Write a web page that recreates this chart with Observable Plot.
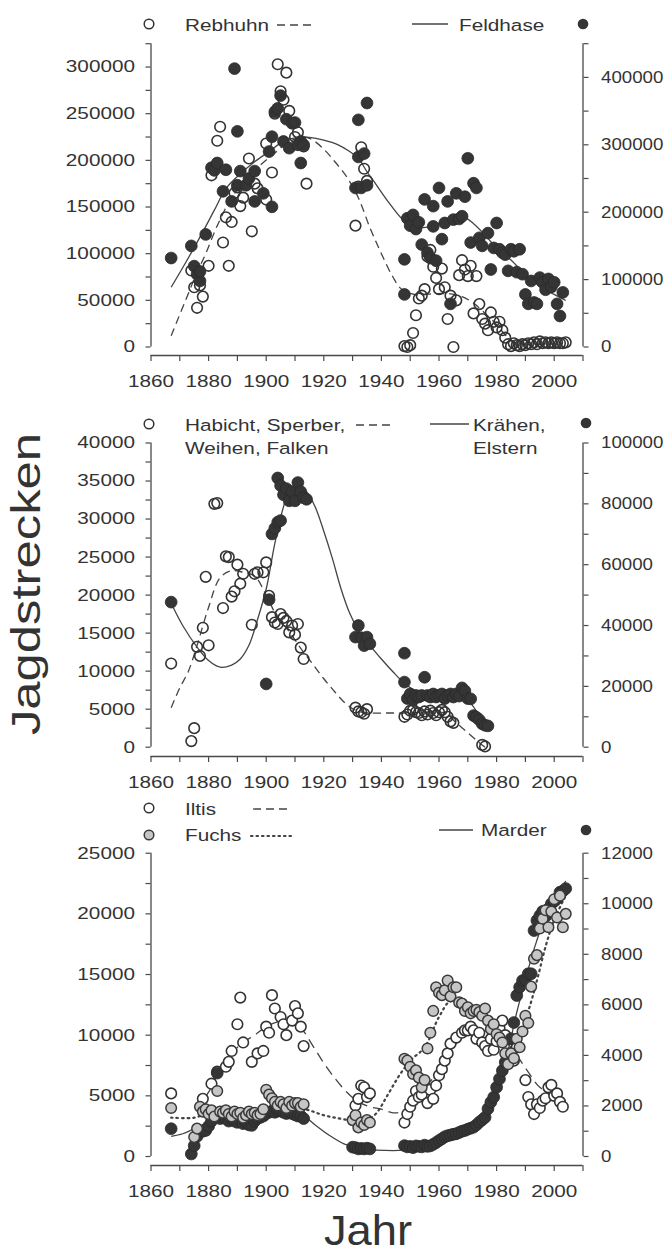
<!DOCTYPE html>
<html><head><meta charset="utf-8">
<script src="https://cdn.jsdelivr.net/npm/d3@7"></script>
<script src="https://cdn.jsdelivr.net/npm/@observablehq/plot@0.6"></script>
<style>
html,body{margin:0;padding:0;background:#fff;}
#root{position:relative;width:665px;height:1254px;overflow:hidden;font-family:"Liberation Sans",Arial,sans-serif;color:#333;}
.panel{position:absolute;left:0;}
#overlay{position:absolute;left:0;top:0;}
</style></head><body><div id="root"></div>
<script>
// ---------- Panel 1: Rebhuhn (left axis), Feldhase (right axis) ----------
const rebhuhn = [[1874,82000],[1875,64000],[1876,42000],[1877,66000],[1878,54000],[1880,87000],[1881,184000],[1883,221000],[1884,236000],[1885,112000],[1886,139000],[1887,87000],[1888,134000],[1889,165000],[1890,171000],[1891,151000],[1892,160000],[1894,202000],[1895,124000],[1896,175000],[1897,170000],[1900,218000],[1900,158000],[1902,187000],[1903,250000],[1904,303000],[1905,274000],[1906,265000],[1907,294000],[1908,253000],[1909,240000],[1910,225000],[1911,230000],[1912,219000],[1913,215000],[1914,175000],
[1931,130000],[1932,172000],[1933,214000],[1934,191000],[1935,178000],
[1948,1000],[1949,0],[1950,2000],[1951,15000],[1952,34000],[1953,52000],[1954,55000],[1955,62000],[1956,97000],[1957,104000],[1958,86000],[1959,74000],[1960,62000],[1961,84000],[1962,64000],[1963,30000],[1964,55000],[1965,0],[1966,50000],[1967,77000],[1968,93000],[1969,83000],[1970,76000],[1971,87000],[1972,36000],[1973,76000],[1974,46000],[1975,30000],[1976,25000],[1977,18000],[1978,37000],[1979,27000],[1980,21000],[1981,27000],[1982,18000],[1983,10000],[1984,3000],[1985,1000],[1986,4000],[1987,2000],[1988,1000],[1989,3000],[1990,2000],[1991,4000],[1992,3000],[1993,5000],[1994,3000],[1995,6000],[1996,4000],[1997,5000],[1998,4000],[1999,5000],[2000,4000],[2001,5000],[2002,4000],[2003,4000],[2004,5000]];
const rebhuhnLine = [[1867,12000],[1872,50000],[1876,80000],[1879,100000],[1883,130000],[1888,160000],[1893,180000],[1898,195000],[1903,208000],[1908,220000],[1913,225000],[1916,222000],[1920,212000],[1924,198000],[1928,182000],[1932,160000],[1936,128000],[1940,100000],[1944,75000],[1947,62000],[1952,56000],[1958,57000],[1964,57000],[1968,54000],[1972,47000],[1976,36000],[1980,24000],[1983,13000],[1986,5000],[1990,3000],[1996,3000],[2003,4000]];
const feldhase = [[1867,132000],[1874,150000],[1875,120000],[1876,108000],[1877,98000],[1877,112000],[1879,167000],[1881,266000],[1882,262000],[1883,273000],[1885,231000],[1886,263000],[1888,216000],[1889,413000],[1890,320000],[1890,240000],[1891,261000],[1893,240000],[1894,250000],[1896,261000],[1896,216000],[1899,228000],[1901,290000],[1902,312000],[1902,208000],[1903,349000],[1904,354000],[1905,373000],[1906,305000],[1907,338000],[1908,295000],[1909,332000],[1910,333000],[1911,300000],[1912,305000],[1912,273000],[1913,300000],
[1931,236000],[1932,337000],[1932,282000],[1933,236000],[1934,287000],[1935,362000],[1935,240000],
[1948,130000],[1948,78000],[1949,191000],[1950,180000],[1951,196000],[1952,175000],[1953,185000],[1954,152000],[1955,219000],[1956,140000],[1957,132000],[1958,209000],[1958,179000],[1959,128000],[1960,236000],[1961,160000],[1962,184000],[1963,216000],[1964,64000],[1965,189000],[1966,228000],[1967,190000],[1968,194000],[1969,223000],[1970,280000],[1971,155000],[1972,243000],[1973,236000],[1974,162000],[1975,150000],[1977,169000],[1978,115000],[1979,147000],[1980,184000],[1981,145000],[1982,140000],[1983,137000],[1984,113000],[1985,145000],[1986,142000],[1987,111000],[1988,145000],[1989,108000],[1990,78000],[1991,64000],[1992,98000],[1993,66000],[1994,64000],[1995,103000],[1996,96000],[1997,85000],[1998,101000],[1999,89000],[2000,96000],[2001,64000],[2002,46000],[2003,81000]];
const feldhaseLine = [[1867,88600],[1872,125000],[1877,163000],[1882,203000],[1886,235000],[1891,257000],[1896,275000],[1901,290000],[1906,305000],[1911,311000],[1915,311000],[1920,307000],[1925,300000],[1929,290000],[1932,280000],[1935,260000],[1938,242000],[1943,212000],[1948,187000],[1953,177000],[1958,180000],[1963,188000],[1968,194000],[1972,183000],[1976,166000],[1980,147000],[1985,129000],[1990,107000],[1995,90000],[2000,78000],[2004,69000]];

// ---------- Panel 2: Habicht etc. (left), Krähen/Elstern (right) ----------
const habicht = [[1867,11000],[1874,800],[1875,2500],[1876,13200],[1877,12000],[1878,15700],[1879,22400],[1880,13400],[1882,32000],[1883,32100],[1885,18300],[1886,25100],[1887,25000],[1888,19800],[1889,20500],[1890,24000],[1891,21500],[1892,22800],[1895,16100],[1896,22800],[1897,23000],[1899,23000],[1900,24300],[1901,19900],[1902,17100],[1903,16400],[1904,16200],[1905,17500],[1906,17000],[1907,16600],[1908,15100],[1909,16000],[1910,14800],[1911,16200],[1912,13100],[1913,11600],
[1931,5200],[1932,4700],[1933,4600],[1934,4400],[1935,5000],
[1948,4000],[1949,4300],[1950,4800],[1951,4900],[1952,4600],[1953,4500],[1954,4200],[1955,4700],[1956,4300],[1957,4800],[1958,4500],[1959,4200],[1960,4600],[1961,4900],[1962,4600],[1963,4000],[1964,3400],[1965,3200],[1975,300],[1976,100]];
const habichtLine = [[1867,5200],[1870,7800],[1873,10000],[1876,13400],[1880,18400],[1884,22300],[1888,23200],[1892,23000],[1896,22500],[1900,20000],[1904,17000],[1908,15200],[1912,13000],[1916,11000],[1920,9000],[1924,7200],[1928,5600],[1932,4700],[1936,4500],[1942,4500],[1948,4500],[1955,4600],[1962,4500],[1966,3200],[1970,1900],[1974,600],[1976,0]];
const kraehen = [[1867,47700],[1900,20800],[1901,48500],[1902,70100],[1903,72000],[1904,74000],[1905,74500],[1904,88500],[1905,86000],[1906,83000],[1907,85000],[1908,81000],[1909,84000],[1910,81000],[1911,87000],[1912,84000],[1913,82000],[1914,81500],
[1931,36200],[1932,40000],[1933,36000],[1934,33400],[1935,36200],[1936,34000],
[1948,30900],[1948,21400],[1949,16000],[1950,17500],[1951,15500],[1952,17000],[1953,16500],[1954,17000],[1955,23000],[1956,17000],[1957,16500],[1958,17500],[1959,16500],[1960,17000],[1961,17500],[1962,16000],[1963,17000],[1964,17500],[1965,16500],[1966,17500],[1967,16800],[1968,19500],[1969,18500],[1970,16000],[1971,15900],[1972,10400],[1973,9800],[1974,9000],[1975,7700],[1976,7200],[1977,7000]];
const kraehenLine = [[1867,47300],[1871,40000],[1876,32900],[1880,28500],[1884,26300],[1888,27000],[1891,29000],[1894,33500],[1897,42000],[1900,52000],[1903,67000],[1906,79000],[1908,84000],[1911,85500],[1914,84000],[1917,79000],[1920,71000],[1923,62000],[1926,52000],[1929,44000],[1932,38500],[1936,33500],[1940,29000],[1944,24800],[1948,21000],[1952,18500],[1958,17500],[1964,17500],[1968,17300],[1971,14500],[1974,10500],[1977,7000]];

// ---------- Panel 3: Iltis, Fuchs (left), Marder (right) ----------
const iltis = [[1867,5200],[1878,4750],[1881,6000],[1883,7000],[1886,7400],[1887,7800],[1888,8700],[1890,10900],[1891,13100],[1892,9400],[1895,7800],[1897,8500],[1899,8700],[1900,10700],[1901,10200],[1902,13300],[1903,12200],[1905,11500],[1906,10900],[1907,10000],[1909,11200],[1910,12400],[1911,11800],[1912,10700],[1913,9100],
[1931,4200],[1932,4750],[1933,5850],[1934,5700],[1935,4900],[1936,5200],
[1948,2800],[1949,3500],[1950,4100],[1951,4600],[1952,5400],[1953,4900],[1954,5100],[1955,5800],[1956,4400],[1957,5500],[1958,4750],[1959,5850],[1960,6700],[1961,7200],[1962,7900],[1963,8500],[1964,9300],[1966,9800],[1968,10200],[1969,10400],[1970,10400],[1971,10700],[1972,10400],[1973,9700],[1974,10200],[1975,9400],[1976,9100],[1977,8700],[1978,9700],[1979,8800],[1980,9500],[1981,10600],[1982,11200],[1983,10000],[1984,8200],[1985,8500],[1986,7900],[1987,9000],[1990,6300],[1991,4900],[1992,4300],[1993,3500],[1994,4300],[1995,4000],[1996,4600],[1997,4800],[1998,5700],[1999,5900],[2000,5000],[2001,5200],[2002,4500],[2003,4100]];
const iltisLine = [[1876,4000],[1880,5300],[1884,7200],[1888,8500],[1892,9400],[1896,10000],[1900,10700],[1904,11100],[1908,11100],[1912,10600],[1916,9200],[1920,7700],[1924,6400],[1928,5300],[1932,4500],[1936,4100],[1940,3900],[1944,3600],[1947,3700],[1950,4300],[1954,5300],[1958,6500],[1962,8000],[1966,9300],[1970,10200],[1975,10400],[1980,10000],[1985,9000],[1990,7300],[1995,5700],[2000,5000],[2004,4600]];
const fuchs = [[1867,4000],[1875,1600],[1876,2300],[1877,4100],[1878,3700],[1879,3900],[1880,3500],[1881,3800],[1882,3300],[1883,5400],[1884,3700],[1885,3600],[1886,3800],[1887,3500],[1888,3300],[1889,3700],[1890,3500],[1891,3600],[1892,3200],[1893,3400],[1894,3700],[1895,3500],[1896,3600],[1897,3400],[1898,3500],[1899,3900],[1900,5500],[1901,5100],[1902,4800],[1903,4500],[1904,4200],[1905,4500],[1906,4300],[1907,4000],[1908,4500],[1909,4200],[1910,4400],[1911,4400],[1912,4100],[1913,4300],
[1930,3000],[1931,3400],[1932,2400],[1933,2800],[1934,2600],[1935,3000],[1936,2800],
[1948,8050],[1949,7900],[1950,7400],[1951,6800],[1952,7100],[1953,6500],[1954,5700],[1955,6300],[1956,8900],[1957,10200],[1958,12000],[1959,13950],[1960,13500],[1961,13300],[1962,13700],[1963,14500],[1964,13200],[1965,13950],[1966,13950],[1967,12700],[1968,12600],[1969,12000],[1970,12300],[1971,11800],[1972,12000],[1973,12100],[1974,11900],[1975,11600],[1976,12200],[1977,11200],[1978,10500],[1979,10900],[1980,10100],[1981,9800],[1982,9400],[1983,8500],[1984,7600],[1985,8500],[1986,8100],[1987,9700],[1988,9000],[1989,10300],[1990,11600],[1991,11000],[1992,14000],[1993,16300],[1994,16600],[1995,18800],[1996,19600],[1997,20300],[1998,18900],[1999,20200],[2000,21200],[2001,19700],[2002,21500],[2003,18900],[2004,20000]];
const fuchsLine = [[1867,3200],[1875,3200],[1880,3600],[1885,3700],[1890,3700],[1895,3700],[1900,3900],[1905,4100],[1910,4100],[1915,3800],[1920,3400],[1925,3150],[1930,2950],[1934,2900],[1938,3500],[1942,5000],[1946,6600],[1950,7900],[1955,9000],[1960,11500],[1964,12800],[1968,12500],[1972,12000],[1976,11300],[1980,10500],[1984,9700],[1988,10200],[1991,12000],[1994,14500],[1997,17300],[2000,19500],[2004,21500]];
const marder = [[1867,1100],[1874,100],[1875,430],[1876,800],[1878,1000],[1879,1030],[1880,1200],[1881,1400],[1883,3300],[1884,1500],[1885,1600],[1886,1500],[1887,1400],[1888,1500],[1889,1400],[1890,1350],[1891,1420],[1892,1300],[1893,1350],[1894,1250],[1895,1230],[1896,1400],[1897,1500],[1898,1550],[1899,1600],[1900,1700],[1901,1750],[1902,1800],[1903,1750],[1904,1800],[1905,1800],[1906,1750],[1907,1700],[1908,1750],[1909,1700],[1910,1650],[1911,1600],[1912,1600],[1913,1500],
[1930,370],[1931,350],[1932,300],[1933,320],[1934,300],[1935,330],[1936,300],
[1948,430],[1949,380],[1950,400],[1951,350],[1952,420],[1953,400],[1954,380],[1955,450],[1956,400],[1957,420],[1958,480],[1959,550],[1960,630],[1961,700],[1962,780],[1963,820],[1964,850],[1965,880],[1966,900],[1967,950],[1968,1000],[1969,1030],[1970,1080],[1971,1120],[1972,1160],[1973,1250],[1974,1360],[1975,1450],[1976,1550],[1977,1890],[1978,2150],[1979,2350],[1980,2740],[1981,3070],[1982,3400],[1983,3730],[1984,4060],[1985,4660],[1986,5300],[1987,6370],[1988,6700],[1989,6960],[1990,7000],[1991,7230],[1992,7230],[1993,8940],[1994,9340],[1995,9530],[1996,9700],[1997,9500],[1998,9800],[1999,10000],[2000,10100],[2001,10200],[2002,10460],[2003,10500],[2004,10600]];
const marderLine = [[1867,800],[1871,900],[1875,1100],[1880,1350],[1885,1500],[1890,1550],[1895,1600],[1900,1700],[1905,1800],[1910,1750],[1913,1620],[1917,1250],[1922,830],[1927,500],[1932,330],[1936,270],[1941,240],[1946,240],[1950,300],[1955,400],[1960,600],[1965,850],[1970,1100],[1975,1500],[1978,2100],[1981,3000],[1984,4200],[1987,5700],[1990,7000],[1993,8200],[1996,9200],[1999,9900],[2002,10500],[2004,10900]];

// ---------- axis tick values ----------
const xTicks = d3.range(1860, 2011, 10);
const p1LeftTicks = d3.range(0, 325001, 25000), p1RightTicks = d3.range(0, 450001, 50000);
const p2LeftTicks = d3.range(0, 40001, 2500),  p2RightTicks = d3.range(0, 100001, 10000);
const p3LeftTicks = d3.range(0, 25001, 2500),  p3RightTicks = d3.range(0, 12001, 1000);

// ---------- styling ----------
const FONT = '"Liberation Sans", Arial, sans-serif';
const INK = "#333", AX = "#4a4a4a", LINE = "#444";
const S = 1.22;     // horizontal text stretch of the reference
const SR = 1.1;     // right-axis labels: keep inside the page
const R = 5.3;      // dot radius
const root = document.getElementById("root");

function stretchText(el, s) {
  el.querySelectorAll("text").forEach(t => {
    const tr = t.getAttribute("transform") || "";
    const x = +(t.getAttribute("x") || 0);
    t.setAttribute("transform", `${tr} translate(${x},0) scale(${s},1) translate(${-x},0)`);
  });
}
const X = d => d[0];
function open(data, k = 1, fill = "none") { return Plot.dot(data, {x: X, y: d => d[1] * k, r: R, fill, stroke: INK, strokeWidth: 1.6}); }
function filled(data, k = 1) { return Plot.dot(data, {x: X, y: d => d[1] * k, r: R + 0.6, fill: "#353535", stroke: "#2a2a2a", strokeWidth: 0.8}); }
function gray(data, k = 1) { return Plot.dot(data, {x: X, y: d => d[1] * k, r: R, fill: "#c6c6c6", stroke: "#3a3a3a", strokeWidth: 1.5}); }
function trend(data, k, dash, w = 1.3) { return Plot.line(data, {x: X, y: d => d[1] * k, curve: "catmull-rom", stroke: LINE, strokeWidth: w, strokeDasharray: dash, strokeLinecap: dash && dash.startsWith("1.") ? "round" : "butt"}); }

function makePanel(c) {
  const k = c.leftMax / c.rightMax;
  const vmin = -c.leftMax * (c.axisPx - c.zeroPx) / (c.zeroPx - c.topPx);
  const svg = Plot.plot({
    width: 665, height: c.height,
    marginLeft: 150.5, marginRight: 82.5,
    marginTop: c.topPx - c.top, marginBottom: c.top + c.height - c.axisPx,
    x: {domain: [1860, 2010], label: null},
    y: {domain: [vmin, c.leftMax], label: null},
    style: {fontFamily: FONT, fontSize: "17px", color: INK, background: "transparent", overflow: "visible"},
    marks: [
      Plot.ruleY([vmin], {stroke: AX, strokeWidth: 1.3}),
      Plot.ruleX([{x: 1860, y1: 0, y2: c.leftMax}, {x: 2010, y1: 0, y2: c.leftMax}], {x: "x", y1: "y1", y2: "y2", stroke: AX, strokeWidth: 1.3}),
      Plot.axisX({ticks: xTicks, tickSize: 6, tickPadding: 13, stroke: AX, strokeWidth: 1.2, label: null,
        tickFormat: d => (d % 20 === 0 && d <= 2000) ? String(d) : ""}),
      Plot.axisY({anchor: "left", ticks: c.leftTicks, tickSize: 5, tickPadding: 11, stroke: AX, strokeWidth: 1.2, label: null,
        tickFormat: d => (d % c.leftStep === 0 && d <= c.leftLabelMax) ? String(d) : ""}),
      Plot.axisY({anchor: "right", ticks: c.rightTicks.map(v => v * k), tickSize: 5, tickPadding: 13, stroke: AX, strokeWidth: 1.2, label: null,
        ariaLabel: "right-axis",
        tickFormat: d => { const v = Math.round(d / k); return (v % c.rightStep === 0) ? String(v) : ""; }}),
      ...c.marks(k)
    ]
  });
  // stretch texts: right-axis labels less so they stay on the page
  svg.querySelectorAll("text").forEach(t => {
    const tr = t.getAttribute("transform") || "";
    const anchor = t.closest("g") && t.closest("g").getAttribute("text-anchor");
    const s = anchor === "start" ? SR : S;
    t.setAttribute("transform", `${tr} scale(${s},1)`);
  });
  const div = document.createElement("div");
  div.className = "panel"; div.style.top = c.top + "px";
  div.appendChild(svg);
  root.appendChild(div);
}

makePanel({top: 0, height: 400, topPx: 43.2, zeroPx: 346.5, axisPx: 355,
  leftMax: 325000, rightMax: 450000, leftTicks: p1LeftTicks, rightTicks: p1RightTicks,
  leftStep: 50000, leftLabelMax: 300000, rightStep: 100000,
  marks: k => [trend(rebhuhnLine, 1, "8,5"), trend(feldhaseLine, k, null), filled(feldhase, k), open(rebhuhn, 1)]});

makePanel({top: 400, height: 410, topPx: 442.5, zeroPx: 746.7, axisPx: 756,
  leftMax: 40000, rightMax: 100000, leftTicks: p2LeftTicks, rightTicks: p2RightTicks,
  leftStep: 5000, leftLabelMax: 40000, rightStep: 20000,
  marks: k => [trend(habichtLine, 1, "8,5"), trend(kraehenLine, k, null), filled(kraehen, k), open(habicht, 1)]});

makePanel({top: 820, height: 400, topPx: 852.7, zeroPx: 1156, axisPx: 1165,
  leftMax: 25000, rightMax: 12000, leftTicks: p3LeftTicks, rightTicks: p3RightTicks,
  leftStep: 5000, leftLabelMax: 25000, rightStep: 2000,
  marks: k => [trend(iltisLine, 1, "10,6"), trend(fuchsLine, 1, "1.5,4", 2.2), trend(marderLine, k, null),
               open(iltis, 1, "white"), filled(marder, k), gray(fuchs, 1)]});

// ---------- overlay: legends and axis titles ----------
const ov = d3.select(root).append("svg").attr("id", "overlay").attr("width", 665).attr("height", 1254)
  .style("font-family", FONT).style("fill", INK);
function txt(x, y, s, size = 17) {
  ov.append("text").attr("x", x).attr("y", y).attr("dy", "0.35em").attr("font-size", size).attr("fill", INK)
    .attr("transform", `translate(${x},0) scale(${S},1) translate(${-x},0)`).text(s);
}
function seg(x1, x2, y, dash, w = 1.3) {
  ov.append("line").attr("x1", x1).attr("x2", x2).attr("y1", y).attr("y2", y).attr("stroke", LINE)
    .attr("stroke-width", w).attr("stroke-dasharray", dash).attr("stroke-linecap", dash && dash.startsWith("1.") ? "round" : "butt");
}
function sym(x, y, kind) {
  const c = ov.append("circle").attr("cx", x).attr("cy", y);
  if (kind === "open") c.attr("r", R - 0.5).attr("fill", "none").attr("stroke", INK).attr("stroke-width", 1.5);
  else if (kind === "gray") c.attr("r", R - 0.5).attr("fill", "#c6c6c6").attr("stroke", "#3a3a3a").attr("stroke-width", 1.5);
  else c.attr("r", R).attr("fill", "#353535");
}
// panel 1
sym(149, 24, "open"); txt(185, 25, "Rebhuhn"); seg(277, 315, 25, "8,5");
seg(412, 448, 24, null); txt(459, 25, "Feldhase"); sym(583, 24, "filled");
// panel 2
sym(149, 424, "open"); txt(185, 425, "Habicht, Sperber,"); txt(185, 448, "Weihen, Falken"); seg(356, 392, 425, "8,5");
seg(430, 469, 424, null); txt(473, 425, "Krähen,"); txt(473, 448, "Elstern"); sym(586, 423, "filled");
// panel 3
sym(149, 808, "open"); txt(185, 809, "Iltis"); seg(253, 290, 809, "8,5");
sym(149, 835, "gray"); txt(185, 835, "Fuchs"); seg(251, 294, 836, "1.5,4", 2.2);
seg(439, 473, 830, null); txt(481, 830, "Marder"); sym(586, 830, "filled");
// axis titles
ov.append("text").attr("transform", "translate(40,584) rotate(-90) scale(1.27,1)").attr("text-anchor", "middle")
  .attr("font-size", 40).attr("fill", INK).text("Jagdstrecken");
ov.append("text").attr("x", 368).attr("y", 1245).attr("text-anchor", "middle")
  .attr("font-size", 42).attr("fill", INK)
  .attr("transform", "translate(368,0) scale(1.08,1) translate(-368,0)").text("Jahr");
</script></body></html>
